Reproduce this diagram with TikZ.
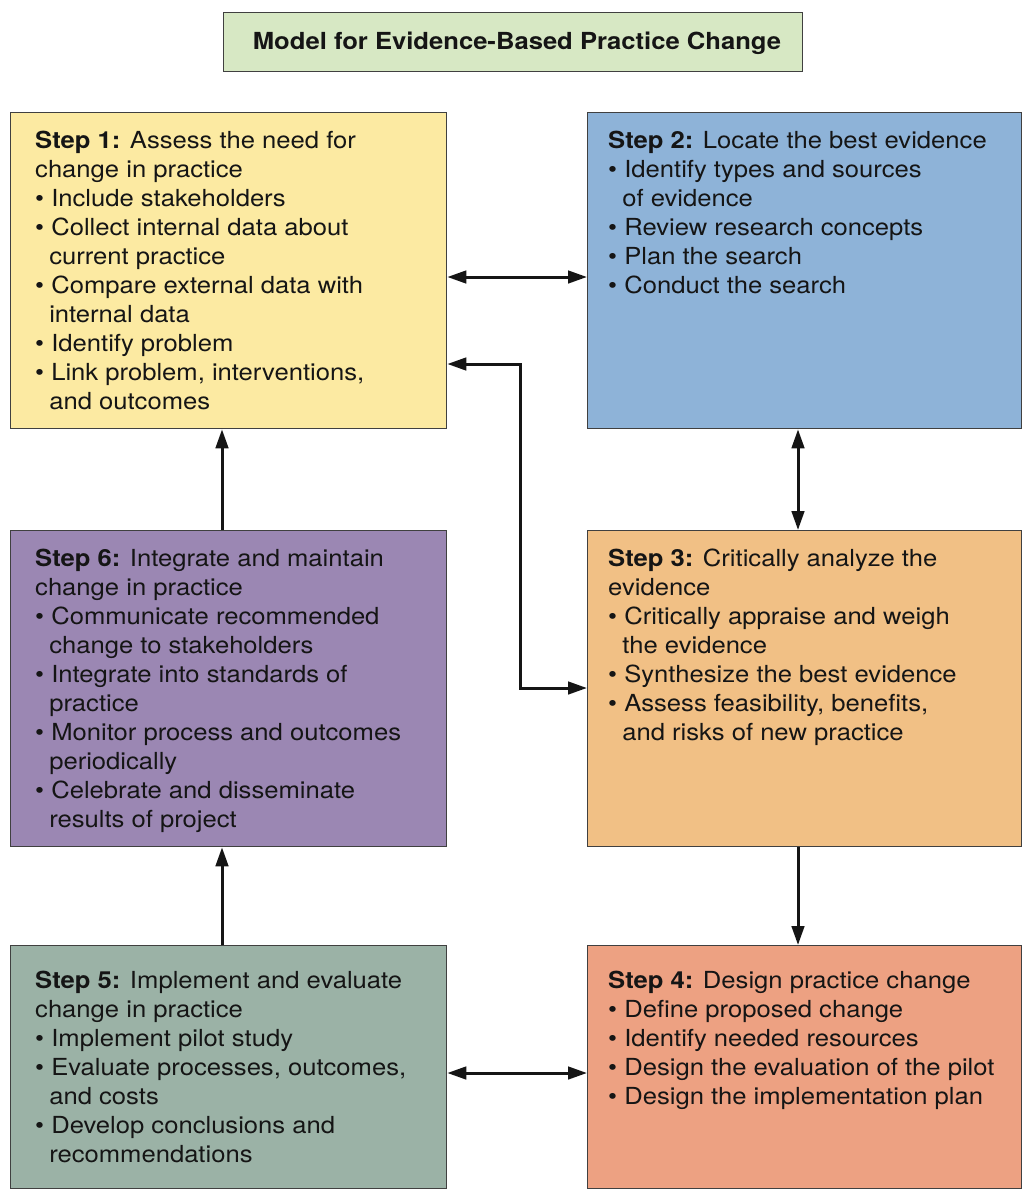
\documentclass[tikz,border=0pt]{standalone}
\usepackage{fontspec}
\setmainfont[FakeStretch=1.09]{TeX Gyre Heros}
\usetikzlibrary{arrows.meta}
\definecolor{cTitle}{HTML}{D7E8C4}
\definecolor{cYel}{HTML}{FCEAA2}
\definecolor{cBlue}{HTML}{8EB3D8}
\definecolor{cPurp}{HTML}{9B87B3}
\definecolor{cOrng}{HTML}{F1C085}
\definecolor{cGray}{HTML}{9BB2A6}
\definecolor{cSalm}{HTML}{EDA182}
\definecolor{cEdge}{HTML}{404040}
\definecolor{cText}{HTML}{151515}
\newcommand{\bl}{\textbullet\ }
\newcommand{\ct}{\hphantom{\textbullet\ }\hspace*{-2pt}}
\tikzset{
  stepbox/.style={draw=cEdge, line width=1.3pt, anchor=north west, inner sep=0pt,
    minimum width=436pt},
  steptext/.style={anchor=base west, inner sep=0pt, text=cText,
    font=\fontsize{23.5}{29}\selectfont},
  arr/.style={draw=cText, line width=3pt,
    arrows={-Triangle[length=19pt,width=12.5pt]}},
  darr/.style={draw=cText, line width=3pt,
    arrows={Triangle[length=19pt,width=12.5pt]-Triangle[length=19pt,width=12.5pt]}}
}
\begin{document}
\begin{tikzpicture}[x=1pt,y=-1pt]
\useasboundingbox (0,0) rectangle (1021,1195);
% title
\node[draw=cEdge, line width=1.3pt, fill=cTitle, anchor=north west, inner sep=0pt,
  minimum width=579pt, minimum height=59pt] (title) at (223,12) {};
\node[font=\fontsize{23.5}{28}\bfseries\selectfont, text=cText, inner sep=0pt, anchor=base] (titletext)
  at (517,49) {Model for Evidence-Based Practice Change};
% boxes
\node[stepbox, fill=cYel,  minimum height=316pt] (s1) at (10,112) {};
\node[stepbox, fill=cBlue, minimum height=316pt, minimum width=434pt] (s2) at (587,112) {};
\node[stepbox, fill=cPurp, minimum height=316pt] (s6) at (10,530) {};
\node[stepbox, fill=cOrng, minimum height=316pt, minimum width=434pt] (s3) at (587,530) {};
\node[stepbox, fill=cGray, minimum height=243pt] (s5) at (10,945) {};
\node[stepbox, fill=cSalm, minimum height=243pt, minimum width=434pt] (s4) at (587,945) {};
% texts
\node[steptext] (t1) at (35,148) {\begin{tabular}[t]{@{}l@{}}\textbf{Step 1:} Assess the need for\\
change in practice\\
\bl Include stakeholders\\
\bl Collect internal data about\\
\ct current practice\\
\bl Compare external data with\\
\ct internal data\\
\bl Identify problem\\
\bl Link problem, interventions,\\
\ct and outcomes\end{tabular}};
\node[steptext] (t2) at (608,148) {\begin{tabular}[t]{@{}l@{}}\textbf{Step 2:} Locate the best evidence\\
\bl Identify types and sources\\
\ct of evidence\\
\bl Review research concepts\\
\bl Plan the search\\
\bl Conduct the search\end{tabular}};
\node[steptext] (t6) at (35,566) {\begin{tabular}[t]{@{}l@{}}\textbf{Step 6:} Integrate and maintain\\
change in practice\\
\bl Communicate recommended\\
\ct change to stakeholders\\
\bl Integrate into standards of\\
\ct practice\\
\bl Monitor process and outcomes\\
\ct periodically\\
\bl Celebrate and disseminate\\
\ct results of project\end{tabular}};
\node[steptext] (t3) at (608,566) {\begin{tabular}[t]{@{}l@{}}\textbf{Step 3:} Critically analyze the\\
evidence\\
\bl Critically appraise and weigh\\
\ct the evidence\\
\bl Synthesize the best evidence\\
\bl Assess feasibility, benefits,\\
\ct and risks of new practice\end{tabular}};
\node[steptext] (t5) at (35,988) {\begin{tabular}[t]{@{}l@{}}\textbf{Step 5:} Implement and evaluate\\
change in practice\\
\bl Implement pilot study\\
\bl Evaluate processes, outcomes,\\
\ct and costs\\
\bl Develop conclusions and\\
\ct recommendations\end{tabular}};
\node[steptext] (t4) at (608,988) {\begin{tabular}[t]{@{}l@{}}\textbf{Step 4:} Design practice change\\
\bl Define proposed change\\
\bl Identify needed resources\\
\bl Design the evaluation of the pilot\\
\bl Design the implementation plan\end{tabular}};
% connectors
\coordinate (k1) at (520,364);
\coordinate (k2) at (520,688);
\draw[darr] (s1.east |- 0,277) -- (s2.west |- 0,277);
\draw[darr] (s2.south -| 798,0) -- (s3.north -| 798,0);
\draw[darr] (s1.east |- k1) -- (k1) -- (k2) -- (s3.west |- k2);
\draw[arr] (s3.south -| 798,0) -- (s4.north -| 798,0);
\draw[darr] (s5.east |- 0,1073) -- (s4.west |- 0,1073);
\draw[arr] (s5.north -| 222,0) -- (s6.south -| 222,0);
\draw[arr] (s6.north -| 222,0) -- (s1.south -| 222,0);
\end{tikzpicture}
\end{document}
